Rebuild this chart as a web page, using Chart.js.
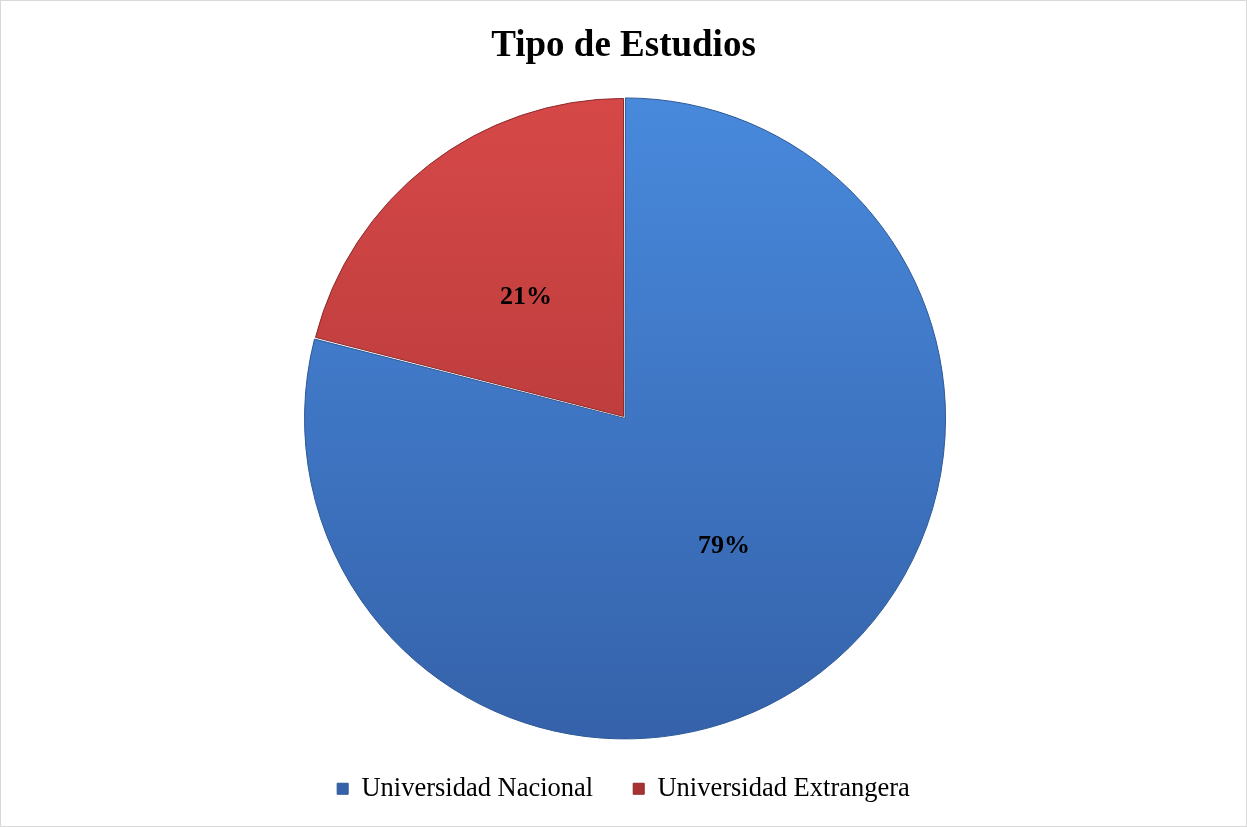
<!DOCTYPE html>
<html>
<head>
<meta charset="utf-8">
<script src="https://cdn.jsdelivr.net/npm/chart.js@4/dist/chart.umd.min.js"></script>
<style>
  html, body { margin: 0; padding: 0; background: #fff; }
  #wrap { width: 1247px; height: 827px; box-sizing: border-box; border: 1px solid #d9d9d9; }
</style>
</head>
<body>
<div id="wrap"><canvas id="chart" width="1245" height="825"></canvas></div>
<script>
const labels = ['Universidad Nacional', 'Universidad Extrangera'];
const values = [79, 21];
const topColors = ['#4889dc', '#d64848'];
const bottomColors = ['#3562aa', '#a83333'];
const edgeColors = ['#2d5896', '#8c2a2a'];
const offsets = [10, 0];

// vertical gradient across the pie, lighter at the top
function sliceFill(context) {
  const chart = context.chart;
  const area = chart.chartArea;
  const i = context.dataIndex;
  if (!area) return topColors[i];
  const g = chart.ctx.createLinearGradient(0, area.top, 0, area.bottom);
  g.addColorStop(0, topColors[i]);
  g.addColorStop(1, bottomColors[i]);
  return g;
}

const percentLabels = {
  id: 'percentLabels',
  afterDatasetsDraw(chart) {
    const ctx = chart.ctx;
    const meta = chart.getDatasetMeta(0);
    const total = values.reduce((a, b) => a + b, 0);
    ctx.save();
    ctx.font = 'bold 26px "Liberation Serif", "Times New Roman", serif';
    ctx.fillStyle = '#000';
    ctx.textAlign = 'center';
    ctx.textBaseline = 'middle';
    meta.data.forEach((arc, i) => {
      const p = arc.tooltipPosition();
      ctx.fillText(Math.round(values[i] / total * 100) + '%', p.x, p.y + (i === 1 ? 6 : 0));
    });
    ctx.restore();
  }
};

new Chart(document.getElementById('chart'), {
  type: 'pie',
  data: {
    labels: labels,
    datasets: [{
      data: values,
      backgroundColor: sliceFill,
      borderColor: edgeColors,
      borderWidth: 1,
      offset: offsets
    }]
  },
  options: {
    responsive: false,
    animation: false,
    radius: 318,
    layout: { padding: { top: 0, bottom: 14 } },
    plugins: {
      title: {
        display: true,
        text: 'Tipo de Estudios',
        color: '#000',
        font: { family: '"Liberation Serif", "Times New Roman", serif', size: 37, weight: 'bold' },
        padding: { top: 23, bottom: 29 }
      },
      legend: {
        position: 'bottom',
        labels: {
          color: '#000',
          font: { family: '"Liberation Serif", "Times New Roman", serif', size: 26.5 },
          boxWidth: 11,
          boxHeight: 11,
          padding: 40
        }
      },
      tooltip: { enabled: false }
    }
  },
  plugins: [percentLabels]
});
</script>
</body>
</html>
